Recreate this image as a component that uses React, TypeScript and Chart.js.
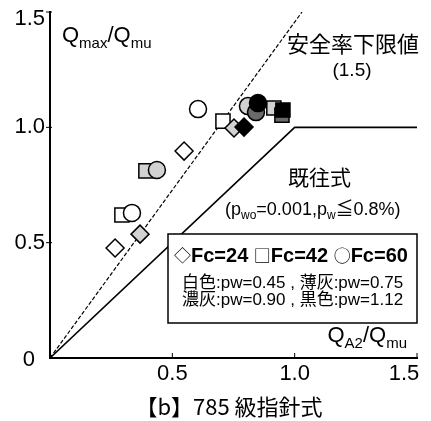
import React, { useEffect, useRef } from "react";
import { Chart, registerables } from "chart.js";

Chart.register(...registerables);

// ---- axis settings / tick labels ----
const AXIS_MIN = 0;
const AXIS_MAX = 1.5;
const TICK_VALUES = [0.5, 1.0, 1.5];
const TICK_LABELS = ["0.5", "1.0", "1.5"];

// ---- data (x = QA2/Qmu, y = Qmax/Qmu) ----
// Fc=24 (diamonds)
const fc24White: [number, number][] = [[0.266, 0.477], [0.548, 0.897]];
const fc24Light: [number, number][] = [[0.368, 0.537], [0.752, 0.997]];
const fc24Black: [number, number][] = [[0.793, 1.001]];
// Fc=42 (squares)
const fc42White: [number, number][] = [[0.294, 0.62], [0.707, 1.027]];
const fc42Light: [number, number][] = [[0.392, 0.811], [0.915, 1.084]];
const fc42Dark: [number, number][] = [[0.948, 1.053]];
const fc42Black: [number, number][] = [[0.952, 1.075]];
// Fc=60 (circles)
const fc60White: [number, number][] = [[0.335, 0.629], [0.605, 1.079]];
const fc60Light: [number, number][] = [[0.437, 0.815], [0.809, 1.092]];
const fc60Dark: [number, number][] = [[0.842, 1.066]];
const fc60Black: [number, number][] = [[0.85, 1.105]];

// reference lines
const safetyLineX = [0, 1.03];
const safetyLineY = [0, 1.5];
const pastFormulaX = [0, 1.0, 1.5];
const pastFormulaY = [0, 1.0, 1.0];

const WHITE = "#ffffff";
const LIGHT = "#d2d2d2";
const DARK = "#6a6a6a";
const BLACK = "#000000";

const LATIN = "'Liberation Sans', Arial, sans-serif";
const CJK = "'Noto Sans CJK JP', 'Liberation Sans', sans-serif";
const MIXED = "'Liberation Sans', 'Noto Sans CJK JP', sans-serif";

type Seg = { t: string; font: string; dy?: number };

function drawRich(ctx: CanvasRenderingContext2D, segs: Seg[], x: number, y: number, align: "left" | "right" | "center") {
  let total = 0;
  for (const s of segs) {
    ctx.font = s.font;
    total += ctx.measureText(s.t).width;
  }
  let cx = align === "left" ? x : align === "right" ? x - total : x - total / 2;
  ctx.textAlign = "left";
  ctx.textBaseline = "alphabetic";
  for (const s of segs) {
    ctx.font = s.font;
    ctx.fillText(s.t, cx, y + (s.dy || 0));
    cx += ctx.measureText(s.t).width;
  }
}

function text(ctx: CanvasRenderingContext2D, t: string, x: number, y: number, font: string, align: CanvasTextAlign) {
  ctx.font = font;
  ctx.textAlign = align;
  ctx.textBaseline = "middle";
  ctx.fillText(t, x, y);
}

const annotPlugin = {
  id: "annot",
  afterDatasetsDraw(chart: any) {
    const ctx: CanvasRenderingContext2D = chart.ctx;
    const xs = chart.scales.x;
    const ys = chart.scales.y;
    const area = chart.chartArea;
    ctx.save();
    ctx.fillStyle = "#000";
    ctx.strokeStyle = "#000";

    // tick marks
    ctx.lineWidth = 1;
    TICK_VALUES.forEach((v) => {
      const px = xs.getPixelForValue(v);
      ctx.beginPath();
      ctx.moveTo(px, area.bottom);
      ctx.lineTo(px, area.bottom - 5);
      ctx.stroke();
      const py = ys.getPixelForValue(v);
      ctx.beginPath();
      ctx.moveTo(area.left - 4, py);
      ctx.lineTo(area.left + 2, py);
      ctx.stroke();
    });

    // tick labels
    const tickFont = `22px ${LATIN}`;
    TICK_VALUES.forEach((v, i) => {
      const py = ys.getPixelForValue(v);
      const yy = i === TICK_VALUES.length - 1 ? py + 7 : py;
      text(ctx, TICK_LABELS[i], area.left - 5, yy, tickFont, "right");
      const px = xs.getPixelForValue(v);
      const xx = i === TICK_VALUES.length - 1 ? px - 13 : px;
      text(ctx, TICK_LABELS[i], xx, area.bottom + 16, tickFont, "center");
    });
    text(ctx, "0", area.left - 15, area.bottom + 2, tickFont, "right");

    // axis titles
    drawRich(ctx, [
      { t: "Q", font: `22px ${LATIN}` },
      { t: "max", font: `15px ${LATIN}`, dy: 6 },
      { t: "/", font: `22px ${LATIN}` },
      { t: "Q", font: `22px ${LATIN}` },
      { t: "mu", font: `15px ${LATIN}`, dy: 6 },
    ], 62, 42, "left");
    drawRich(ctx, [
      { t: "Q", font: `22px ${LATIN}` },
      { t: "A2", font: `15px ${LATIN}`, dy: 6 },
      { t: "/", font: `22px ${LATIN}` },
      { t: "Q", font: `22px ${LATIN}` },
      { t: "mu", font: `15px ${LATIN}`, dy: 6 },
    ], 407, 342, "right");

    // line annotations
    text(ctx, "安全率下限値", 287, 44, `22px ${CJK}`, "left");
    text(ctx, "(1.5)", 352, 71, `19px ${LATIN}`, "center");
    text(ctx, "既往式", 288, 177, `21px ${CJK}`, "left");
    drawRich(ctx, [
      { t: "(p", font: `18px ${LATIN}` },
      { t: "wo", font: `12px ${LATIN}`, dy: 4 },
      { t: "=0.001,p", font: `18px ${LATIN}` },
      { t: "w", font: `12px ${LATIN}`, dy: 4 },
      { t: "≦", font: `18px ${CJK}` },
      { t: "0.8%)", font: `18px ${LATIN}` },
    ], 225, 215, "left");

    // legend box
    ctx.fillStyle = "#fff";
    ctx.fillRect(168, 234, 249, 89);
    ctx.lineWidth = 1.5;
    ctx.strokeRect(168, 234, 249, 89);
    ctx.fillStyle = "#000";
    const sym = `17px ${CJK}`;
    const bold = `bold 20px ${LATIN}`;
    drawRich(ctx, [
      { t: "◇", font: sym },
      { t: "Fc=24 ", font: bold },
      { t: "□", font: sym },
      { t: "Fc=42 ", font: bold },
      { t: "○", font: sym },
      { t: "Fc=60", font: bold },
    ], 174, 262, "left");
    text(ctx, "白色:pw=0.45 , 薄灰:pw=0.75", 182, 283, `17px ${MIXED}`, "left");
    text(ctx, "濃灰:pw=0.90 , 黒色:pw=1.12", 182, 300, `17px ${MIXED}`, "left");

    // caption
    text(ctx, "【b】785 級指針式", 229, 407, `22px ${CJK}`, "center");
    ctx.restore();
  },
};

function pts(arr: [number, number][]) {
  return arr.map(([x, y]) => ({ x, y }));
}

export default function App() {
  const ref = useRef<HTMLCanvasElement | null>(null);
  useEffect(() => {
    if (!ref.current) return;
    const layers: { data: [number, number][]; style: string; fill: string; r: number }[] = [
      { data: fc42White, style: "rect", fill: WHITE, r: 10 },
      { data: fc24White, style: "rectRot", fill: WHITE, r: 9 },
      { data: fc60White, style: "circle", fill: WHITE, r: 8.5 },
      { data: fc42Light, style: "rect", fill: LIGHT, r: 10 },
      { data: fc24Light, style: "rectRot", fill: LIGHT, r: 9 },
      { data: fc60Light, style: "circle", fill: LIGHT, r: 8.5 },
      { data: fc42Dark, style: "rect", fill: DARK, r: 10 },
      { data: fc60Dark, style: "circle", fill: DARK, r: 8.5 },
      { data: fc42Black, style: "rect", fill: BLACK, r: 10 },
      { data: fc24Black, style: "rectRot", fill: BLACK, r: 9 },
      { data: fc60Black, style: "circle", fill: BLACK, r: 8.5 },
    ];
    const datasets: any[] = [
      {
        type: "line",
        data: safetyLineX.map((x, i) => ({ x, y: safetyLineY[i] })),
        borderColor: "#000",
        borderWidth: 1.2,
        borderDash: [4, 2],
        pointRadius: 0,
        showLine: true,
        fill: false,
        order: 200,
      },
      {
        type: "line",
        data: pastFormulaX.map((x, i) => ({ x, y: pastFormulaY[i] })),
        borderColor: "#000",
        borderWidth: 1.6,
        pointRadius: 0,
        showLine: true,
        fill: false,
        order: 199,
      },
      ...layers.map((l, i) => ({
        data: pts(l.data),
        pointStyle: l.style,
        pointRadius: l.r,
        pointBackgroundColor: l.fill,
        pointBorderColor: "#000",
        pointBorderWidth: 1.5,
        showLine: false,
        order: 100 - i,
      })),
    ];
    const chart = new Chart(ref.current, {
      type: "scatter",
      data: { datasets },
      options: {
        animation: false,
        responsive: false,
        devicePixelRatio: 1,
        events: [],
        layout: { padding: { top: 12, right: 14, left: 0, bottom: 0 } },
        plugins: { legend: { display: false }, tooltip: { enabled: false }, title: { display: false } },
        scales: {
          x: {
            type: "linear",
            min: AXIS_MIN,
            max: AXIS_MAX,
            grid: { display: false },
            border: { display: true, color: "#000", width: 2 },
            ticks: { display: false },
            afterFit: (s: any) => { s.height = 63; },
          },
          y: {
            type: "linear",
            min: AXIS_MIN,
            max: AXIS_MAX,
            grid: { display: false },
            border: { display: true, color: "#000", width: 2 },
            ticks: { display: false },
            afterFit: (s: any) => { s.width = 50; },
          },
        },
      } as any,
      plugins: [annotPlugin],
    });
    return () => chart.destroy();
  }, []);
  return (
    <div style={{ position: "fixed", left: 0, top: 0, width: 431, height: 421, background: "#fff" }}>
      <canvas ref={ref} width={431} height={421} style={{ display: "block" }} />
    </div>
  );
}
